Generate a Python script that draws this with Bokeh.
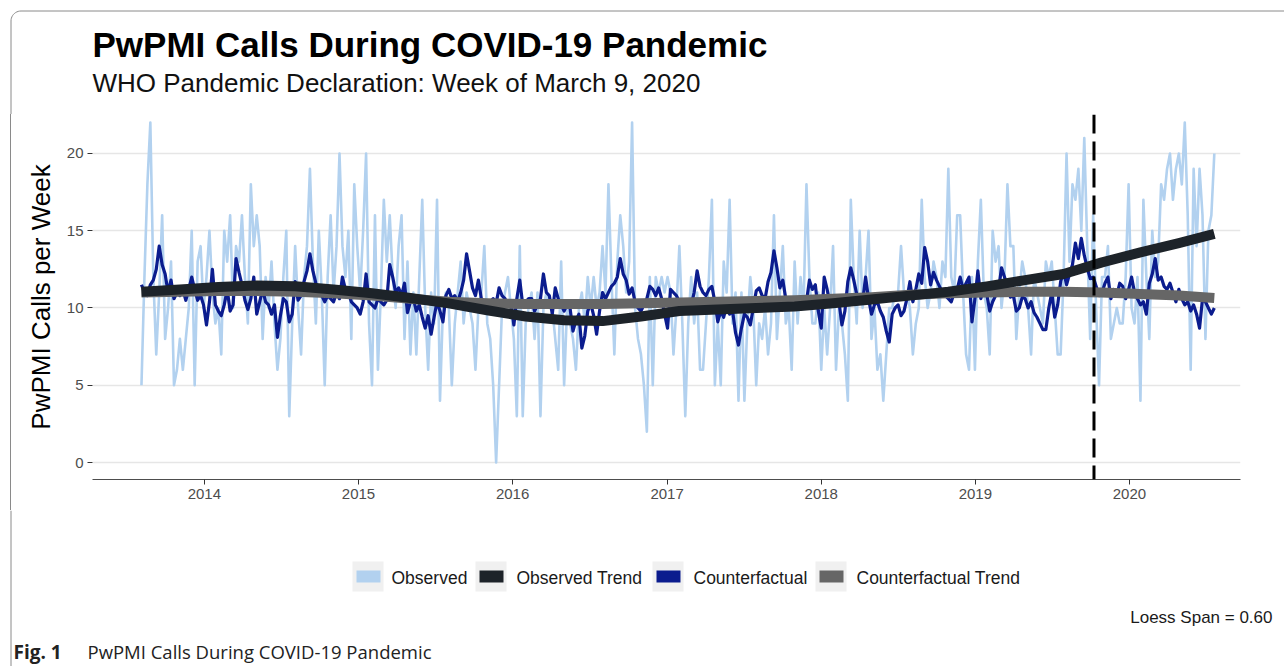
import datetime as dt
import numpy as np
import pandas as pd
from bokeh.plotting import figure
from bokeh.layouts import column, row
from bokeh.models import (ColumnDataSource, Span, FixedTicker, Spacer,
                          DatetimeTickFormatter, Range1d)
from bokeh.core.properties import value
from bokeh.embed import file_html
from bokeh.resources import INLINE

# ---------------- data ----------------
start_date = "2013-08-05"          # first weekly observation

observed = [
    5, 12, 18, 22, 12, 7, 11, 16, 8, 10,
    13, 5, 6, 8, 6, 8, 10, 15, 5, 13,
    14, 10, 12, 15, 11, 9, 10, 7, 15, 13,
    16, 10, 14, 13, 16, 12, 9, 18, 14, 16,
    14, 8, 12, 10, 13, 9, 6, 8, 12, 15,
    3, 9, 14, 10, 7, 12, 14, 19, 13, 9,
    15, 11, 5, 12, 16, 11, 14, 20, 14, 12,
    15, 8, 18, 14, 11, 15, 20, 9, 5, 16,
    6, 11, 17, 13, 16, 12, 10, 14, 16, 8,
    13, 7, 11, 7, 12, 17, 10, 6, 11, 9,
    17, 4, 10, 11, 10, 5, 9, 11, 13, 9,
    11, 10, 9, 6, 10, 11, 14, 9, 8, 5,
    0, 5, 10, 11, 12, 10, 8, 3, 14, 3,
    9, 10, 11, 8, 11, 3, 10, 11, 10, 10,
    8, 6, 13, 5, 10, 9, 8, 6, 10, 11,
    9, 12, 10, 12, 10, 11, 14, 11, 18, 12,
    7, 13, 16, 14, 11, 13, 22, 10, 8, 7,
    5, 2, 12, 5, 12, 11, 12, 11, 12, 11,
    7, 10, 14, 9, 3, 9, 12, 9, 11, 6,
    6, 9, 12, 17, 5, 9, 5, 13, 11, 17,
    9, 11, 4, 11, 4, 9, 12, 10, 5, 9,
    8, 10, 7, 9, 16, 8, 11, 14, 9, 10,
    6, 13, 9, 12, 10, 18, 12, 9, 9, 11,
    6, 10, 7, 10, 14, 6, 10, 9, 7, 4,
    17, 12, 9, 15, 10, 12, 15, 8, 10, 6,
    7, 4, 7, 10, 10, 11, 11, 14, 11, 11,
    10, 7, 9, 10, 17, 12, 10, 11, 13, 12,
    10, 13, 12, 19, 12, 11, 16, 16, 11, 7,
    6, 12, 6, 13, 17, 11, 10, 7, 15, 13,
    14, 10, 12, 18, 14, 14, 8, 11, 13, 12,
    10, 7, 12, 11, 10, 9, 13, 12, 13, 10,
    7, 7, 12, 20, 13, 18, 17, 19, 15, 21,
    14, 8, 16, 10, 5, 12, 12, 14, 8, 9,
    10, 9, 9, 12, 18, 10, 9, 12, 4, 17,
    12, 8, 15, 12, 13, 18, 17, 19, 20, 17,
    19, 20, 18, 22, 16, 6, 19, 14, 19, 16,
    8, 15, 16, 20,
]

counterfactual = [
    11.5, 11, 10.8, 11.5, 11.8, 12.5, 14, 12.8, 12.2, 11,
    11.8, 10.6, 11, 10.8, 11.2, 10.5, 11.2, 12, 11.2, 10.5,
    10.8, 10.2, 8.9, 10.4, 12.5, 10.2, 9.8, 9.5, 10.2, 11.2,
    9.8, 10.2, 13.2, 12.3, 11.5, 10.5, 9.9, 10.6, 12, 9.6,
    10.4, 11.2, 10.4, 10.2, 9.6, 10.2, 8.1, 9.5, 10.6, 10.4,
    9.1, 9.6, 11.7, 10.5, 10.8, 11.7, 12.4, 13.5, 12.4, 11.6,
    11, 10.8, 10.4, 10.8, 10.6, 10.4, 11, 10.6, 12, 11.2,
    11, 10.4, 10.2, 10, 9.6, 10.4, 12.2, 10.4, 10.2, 10,
    10.6, 10.4, 10.2, 10.5, 12.8, 12, 11, 11.3, 10.8, 11.6,
    9.7, 10.4, 10.6, 9.8, 10.2, 9.4, 8.7, 9.5, 8.3, 9.4,
    10.4, 9.8, 9.1, 10.8, 11.2, 10.6, 10.8, 10.4, 11, 11.8,
    13.5, 12.4, 11.3, 10.8, 11.8, 10.6, 10.4, 10.2, 10.4, 10.6,
    10.3, 11.3, 10.8, 10.6, 10.2, 10.4, 8.9, 10.6, 11.8, 10.2,
    10.4, 10.6, 10.6, 9.8, 10.2, 10.6, 12.2, 11, 10.8, 9.6,
    11.3, 10.6, 10.2, 9.8, 10.2, 10, 8.5, 9.2, 9.6, 7.4,
    8.2, 9.8, 10.3, 9.5, 8.3, 9.8, 11, 10.6, 11, 11.4,
    11.6, 12, 13.2, 12.2, 11.8, 10.9, 11.3, 10.4, 10, 9.8,
    10.2, 10.6, 11.4, 11.2, 10.8, 11.3, 10.6, 9.6, 8.7, 11.2,
    11, 10.8, 10.4, 10.2, 9.8, 10, 10.2, 11, 12.4, 11.4,
    11, 10.8, 11.2, 11.4, 10.4, 9.1, 9.8, 9.4, 10.2, 9.6,
    9.8, 8.4, 7.6, 8.7, 9.6, 9.4, 8.9, 10, 11.1, 11.3,
    10.8, 10.6, 11.7, 12.3, 13.7, 12.6, 11.3, 11.8, 10.6, 10.4,
    10, 10.4, 10.6, 10.4, 10.6, 10.4, 11.8, 11.2, 11.5, 9.8,
    8.7, 12, 11.2, 10.2, 10.6, 10.8, 10.4, 8.9, 9.8, 11.7,
    12.6, 11.8, 10.9, 10.6, 10.4, 12, 10.6, 9.6, 10.2, 10.4,
    9.8, 9.4, 8.5, 7.8, 9.6, 10, 10.2, 9.5, 9.8, 10.6,
    11.7, 10.4, 11.2, 12.2, 11.6, 13.9, 13, 11.5, 12.3, 11.8,
    11.4, 11, 10.8, 10.6, 10.4, 11, 11.2, 12, 11.2, 11.6,
    12, 9.1, 10.6, 12.4, 10.6, 11.4, 10.9, 9.8, 10.4, 10.8,
    11.2, 12.6, 12, 11.4, 10.7, 10.8, 9.8, 10, 10.7, 10.6,
    10, 10.4, 9.7, 9.4, 9, 8.6, 8.6, 10, 11, 9.4,
    10.2, 11.7, 12.4, 11.5, 12.2, 12.8, 14.2, 13.2, 14.5, 13.4,
    12.6, 11.9, 12, 11.4, 10.8, 11, 11.6, 12, 10.6, 11.2,
    10.8, 11.6, 11.4, 10.6, 11.2, 12, 11, 10.6, 10.2, 10.4,
    9.6, 11.6, 12.2, 13.2, 11.8, 12, 11.4, 11.2, 11.6, 11,
    10.4, 11.2, 10.6, 10.2, 10.4, 9.8, 10.2, 9.6, 8.7, 10.6,
    10.4, 10, 9.6, 10,
]

trend_week_index = [0, 13, 26, 39, 52, 65, 78, 91, 104, 117, 130, 143, 156, 169,
                    182, 195, 208, 221, 234, 247, 260, 273, 286, 299, 312, 325,
                    338, 351, 363]
observed_trend = [11.05, 11.2, 11.35, 11.45, 11.4, 11.2, 10.95, 10.65, 10.3, 9.85,
                  9.45, 9.2, 9.15, 9.45, 9.8, 9.9, 10.0, 10.1, 10.3, 10.55, 10.8,
                  11.05, 11.4, 11.8, 12.2, 12.95, 13.6, 14.2, 14.8]
counterfactual_trend = [11.0, 11.05, 11.1, 11.1, 11.05, 10.95, 10.8, 10.6, 10.4, 10.3,
                        10.25, 10.25, 10.25, 10.3, 10.35, 10.4, 10.45, 10.5, 10.6, 10.7,
                        10.85, 10.95, 11.0, 11.05, 11.05, 11.0, 10.9, 10.8, 10.65]

pandemic_line_date = "2019-10-09"
y_ticks = [0, 5, 10, 15, 20]
x_tick_years = [2014, 2015, 2016, 2017, 2018, 2019, 2020]
legend_labels = ["Observed", "Observed Trend", "Counterfactual", "Counterfactual Trend"]
title_text = "PwPMI Calls During COVID-19 Pandemic"
subtitle_text = "WHO Pandemic Declaration: Week of March 9, 2020"
y_label = "PwPMI Calls per Week"
span_note = "Loess Span = 0.60"
caption_bold = "Fig. 1"
caption_text = "PwPMI Calls During COVID-19 Pandemic"

# ---------------- styles ----------------
C_OBS = "#b2d1ef"
C_OBS_TREND = "#1d2329"
C_CF = "#0b1c8e"
C_CF_TREND = "#666666"
legend_colors = [C_OBS, C_OBS_TREND, C_CF, C_CF_TREND]
FONT = "Liberation Sans"
BORDER = "#8a8a8a"

PAGE_W, PAGE_H = 1284, 666
HEAD_H = 114            # header band (title/subtitle)
MAIN_H = 396            # chart band (frame 114..479, x axis below)
FOOT_H = PAGE_H - HEAD_H - MAIN_H
MAIN_W = 1272

def blank_fig(w, h, x0, y0):
    """Figure whose frame covers the whole canvas; coords = page pixels, y downwards."""
    f = figure(width=w, height=h, output_backend="svg", toolbar_location=None,
               x_range=Range1d(x0, x0 + w), y_range=Range1d(y0 + h, y0),
               x_axis_type=None, y_axis_type=None, min_border=0)
    f.outline_line_color = None
    f.background_fill_color = "white"
    f.border_fill_color = "white"
    return f

def put_text(f, x, y, text, size, style="normal", align="left", baseline="middle",
             color="#000000", font=FONT):
    f.text(x=[x], y=[y], text=[text], text_font=value(font), text_font_size=value(size),
           text_font_style=style, text_align=align, text_baseline=baseline,
           text_color=color)

# ---------- header ----------
head = blank_fig(PAGE_W, HEAD_H, 0, 0)
r = 10
ang = np.linspace(np.pi, 1.5 * np.pi, 12)
corner_x = list(10.5 + r + r * np.cos(ang))
corner_y = list(10.5 + r + r * np.sin(ang))
head.line(x=[10.5] + corner_x + [PAGE_W], y=[HEAD_H] + corner_y + [10.5],
          line_color=BORDER, line_width=1)
put_text(head, 92, 44, title_text, "35px", style="bold")
put_text(head, 92, 82, subtitle_text, "26px", color="#111111")

# ---------- main chart ----------
base = pd.Timestamp(start_date)
obs_dates = [base + pd.Timedelta(days=7 * i) for i in range(len(observed))]
cf_dates = [base + pd.Timedelta(days=7 * i) for i in range(len(counterfactual))]
trend_dates = [base + pd.Timedelta(days=7 * i) for i in trend_week_index]

p = figure(width=MAIN_W, height=MAIN_H, output_backend="svg",
           toolbar_location=None, x_axis_type="datetime",
           x_range=Range1d(dt.datetime(2013, 4, 11), dt.datetime(2020, 9, 20)),
           y_range=Range1d(-1.1, 22.52),
           min_border_left=80, min_border_right=44, min_border_top=0, min_border_bottom=31)
p.outline_line_color = None
p.background_fill_color = "white"
p.border_fill_color = "white"

src_obs = ColumnDataSource(dict(x=obs_dates, y=observed))
src_cf = ColumnDataSource(dict(x=cf_dates, y=counterfactual))
src_tr = ColumnDataSource(dict(x=trend_dates, o=observed_trend, c=counterfactual_trend))

p.line("x", "y", source=src_obs, color=C_OBS, line_width=2.6, line_join="round")
p.line("x", "y", source=src_cf, color=C_CF, line_width=3.2, line_join="round")
p.line("x", "c", source=src_tr, color=C_CF_TREND, line_width=10, line_join="round", line_cap="butt")
p.line("x", "o", source=src_tr, color=C_OBS_TREND, line_width=10, line_join="round", line_cap="butt")

p.add_layout(Span(location=pd.Timestamp(pandemic_line_date), dimension="height",
                  line_color="black", line_width=3, line_dash="19 8"))

epoch = dt.datetime(1970, 1, 1)
p.xaxis.ticker = FixedTicker(ticks=[(dt.datetime(y, 1, 1) - epoch).total_seconds() * 1000
                                    for y in x_tick_years])
p.xaxis.formatter = DatetimeTickFormatter(years="%Y", months="%Y", days="%Y", hours="%Y",
                                          minutes="%Y", seconds="%Y", milliseconds="%Y")
p.xaxis.minor_tick_line_color = None
p.xaxis.major_tick_out = 5
p.xaxis.major_tick_in = 0
p.xaxis.major_tick_line_color = "#333333"
p.xaxis.axis_line_color = "#4d4d4d"
p.xaxis.major_label_text_font = FONT
p.xaxis.major_label_text_font_size = "15px"
p.xaxis.major_label_text_color = "#4d4d4d"
p.xaxis.major_label_standoff = 4

p.yaxis.ticker = FixedTicker(ticks=y_ticks)
p.yaxis.minor_tick_line_color = None
p.yaxis.axis_line_color = None
p.yaxis.major_tick_out = 5
p.yaxis.major_tick_in = 0
p.yaxis.major_tick_line_color = "#333333"
p.yaxis.major_label_text_font = FONT
p.yaxis.major_label_text_font_size = "15px"
p.yaxis.major_label_text_color = "#4d4d4d"
p.yaxis.major_label_standoff = 4
p.yaxis.axis_label = y_label
p.yaxis.axis_label_text_font = FONT
p.yaxis.axis_label_text_font_size = "26px"
p.yaxis.axis_label_text_font_style = "normal"
p.yaxis.axis_label_text_color = "#000000"
p.yaxis.axis_label_standoff = 8

p.xgrid.grid_line_color = None
p.ygrid.ticker = FixedTicker(ticks=y_ticks)
p.ygrid.grid_line_color = "#e6e6e6"
p.ygrid.grid_line_width = 1.3

# left panel border next to the chart (a 1px grey strip)
left_gap = Spacer(width=10, height=MAIN_H)
left_line = Spacer(width=1, height=MAIN_H, styles={"background-color": BORDER})
left_pad = Spacer(width=PAGE_W - MAIN_W - 11, height=MAIN_H)

# ---------- footer (legend + notes + caption) ----------
foot_y0 = HEAD_H + MAIN_H
foot = blank_fig(PAGE_W, FOOT_H, 0, foot_y0)
foot.line(x=[10.5, 10.5], y=[foot_y0, PAGE_H], line_color=BORDER, line_width=1)

key_left = [352, 475, 652, 815]
text_left = [391, 516, 693, 856]
foot.quad(left=key_left, right=[k + 31 for k in key_left],
          top=[561] * 4, bottom=[591] * 4, fill_color="#f0f0f0", line_color=None)
foot.quad(left=[k + 4 for k in key_left], right=[k + 28 for k in key_left],
          top=[570] * 4, bottom=[582] * 4, fill_color=legend_colors, line_color=None)
foot.text(x=text_left, y=[577] * 4, text=legend_labels, text_font=value(FONT),
          text_font_size=value("17.5px"), text_baseline="middle", text_align="left",
          text_color="#1a1a1a")

put_text(foot, 1272, 617, span_note, "17px", align="right", color="#1a1a1a")
put_text(foot, 13, 651, caption_bold, "19px", style="bold", font="Open Sans", color="#222222")
put_text(foot, 87, 651, caption_text, "18.5px", font="Open Sans", color="#222222")

layout = column(head, row(left_gap, left_line, left_pad, p), foot)
open("out.html", "w").write(file_html(layout, INLINE))
